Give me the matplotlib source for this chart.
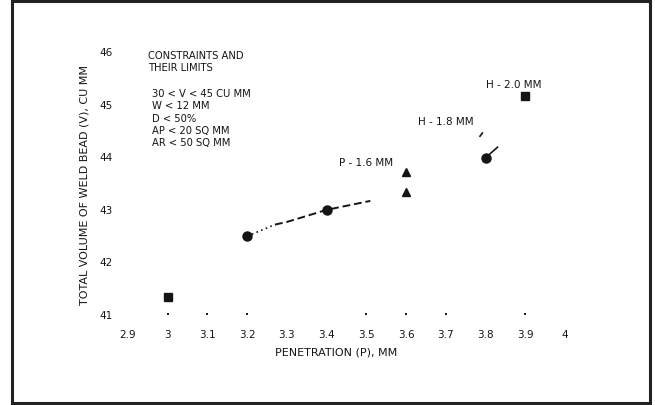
import matplotlib.pyplot as plt
from matplotlib.patches import Rectangle

# values
sq_x = [3.0, 3.9]
sq_y = [41.32, 45.14]
circ_x = [3.2, 3.4, 3.8]
circ_y = [42.48, 42.98, 43.97]
tri_x = [3.6, 3.6]
tri_y = [43.32, 43.70]

# trend curve through the circles (dotted start, then dashed)
dot_x = [3.2, 3.27]
dot_y = [42.48, 42.70]
dash_x = [3.27, 3.3, 3.4, 3.51]
dash_y = [42.70, 42.75, 42.98, 43.15]
# short line pieces above the H = 1.8 MM point
stub_x = [3.8, 3.83]
stub_y = [43.97, 44.17]
nick_x = [3.786, 3.792]
nick_y = [44.38, 44.44]

x_ticks = [2.9, 3.0, 3.1, 3.2, 3.3, 3.4, 3.5, 3.6, 3.7, 3.8, 3.9, 4.0]
x_labels = ["2.9", "3", "3.1", "3.2", "3.3", "3.4", "3.5", "3.6", "3.7", "3.8", "3.9", "4"]
tick_dots = [3.0, 3.1, 3.2, 3.5, 3.6, 3.7, 3.9]
y_ticks = [41, 42, 43, 44, 45, 46]

header = "CONSTRAINTS AND\nTHEIR LIMITS"
limits = "30 < V < 45 CU MM\nW < 12 MM\nD < 50%\nAP < 20 SQ MM\nAR < 50 SQ MM"

labels = ["P - 1.6 MM", "H - 1.8 MM", "H - 2.0 MM"]
label_x = [3.50, 3.70, 3.872]
label_y = [43.89, 44.67, 45.37]

ink = "#151515"
plt.rcParams['font.family'] = ['DejaVu Sans']

fig = plt.figure(figsize=(6.55, 4.06), dpi=100)
fig.patches.append(Rectangle((12 / 655, 2 / 406), 638 / 655, 402 / 406,
                             transform=fig.transFigure, fill=False,
                             edgecolor="#222222", linewidth=2.2))

ax = fig.add_axes([128 / 655, 1 - 315 / 406, 437 / 655, 263 / 406])
ax.set_xlim(2.9, 4.0)
ax.set_ylim(41, 46)
for s in ax.spines.values():
    s.set_visible(False)

ax.plot(dot_x, dot_y, color=ink, lw=1.2, ls=(0, (1, 2)))
ax.plot(dash_x, dash_y, color=ink, lw=1.4, ls=(0, (4, 2)))
ax.plot(stub_x, stub_y, color=ink, lw=1.2)
ax.plot(nick_x, nick_y, color=ink, lw=1.2)

ax.plot(sq_x, sq_y, ls="none", marker="s", ms=5.5, color=ink, clip_on=False)
ax.plot(circ_x, circ_y, ls="none", marker="o", ms=6.5, color=ink, clip_on=False)
ax.plot(tri_x, tri_y, ls="none", marker="^", ms=6, color=ink, clip_on=False)

ax.set_xticks(x_ticks)
ax.set_xticklabels(x_labels)
ax.xaxis.remove_overlapping_locs = False
ax.set_xticks(tick_dots, minor=True)
ax.set_yticks(y_ticks)
ax.tick_params(axis="both", which="major", length=0, labelsize=7.5, colors=ink)
ax.tick_params(axis="x", which="major", pad=11)
ax.tick_params(axis="y", which="major", pad=11)
ax.tick_params(axis="x", which="minor", length=1.3, width=1.4,
               direction="inout", color=ink, bottom=True)

ax.set_xlabel("PENETRATION (P), MM", fontsize=8, color=ink)
ax.set_ylabel("TOTAL VOLUME OF WELD BEAD (V), CU MM", fontsize=8, color=ink)
ax.xaxis.set_label_coords(0.476, -0.125)
ax.yaxis.set_label_coords(-0.087, 0.494)

ax.text(2.95, 45.81, header, fontsize=7.2, color=ink, va="center",
        ha="left", linespacing=1.25)
ax.text(2.96, 45.30, limits, fontsize=7.2, color=ink, va="top",
        ha="left", linespacing=1.3)

for t, lx, ly in zip(labels, label_x, label_y):
    ax.text(lx, ly, t, fontsize=7.5, color=ink, ha="center", va="center")

fig.savefig("out.png", dpi=100)
